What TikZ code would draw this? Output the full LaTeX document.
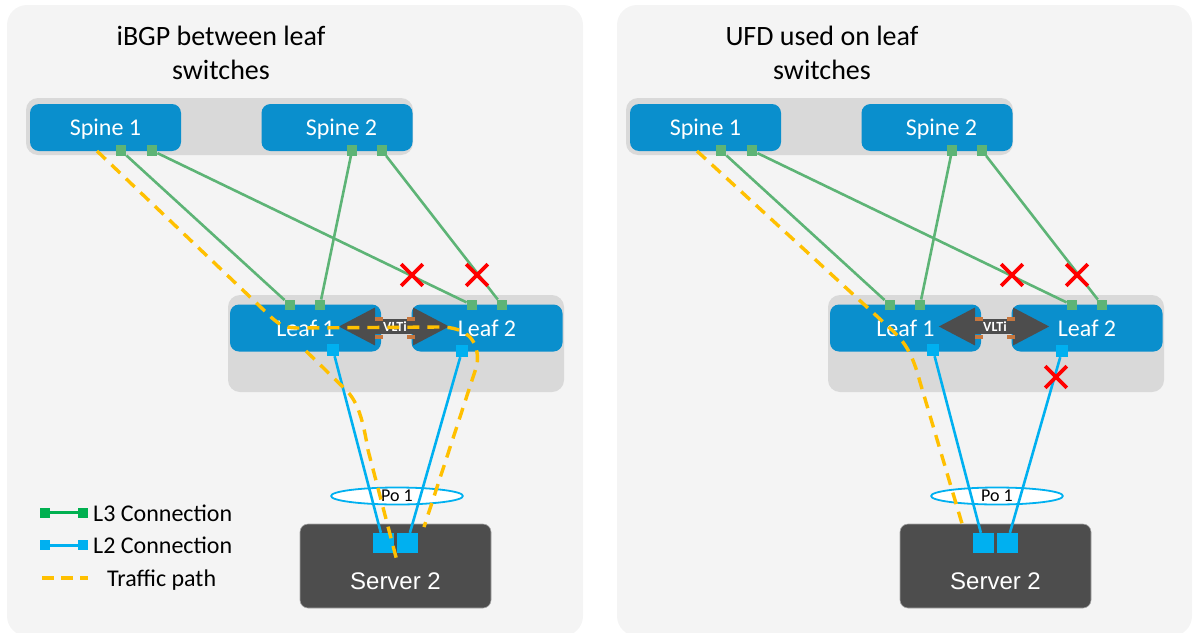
\documentclass[tikz,border=0pt]{standalone}
\usepackage{fontspec}
\setmainfont{Carlito}
\newfontfamily\arialfont{Liberation Sans}
\usetikzlibrary{shapes.geometric,shapes.misc,arrows.meta}
\definecolor{panelbg}{HTML}{F4F4F4}
\definecolor{groupbg}{HTML}{D9D9D9}
\definecolor{swblue}{HTML}{0A8FCD}
\definecolor{lthree}{HTML}{5DB476}
\definecolor{lthreelg}{HTML}{00B050}
\definecolor{ltwo}{HTML}{00B0F0}
\definecolor{traffic}{HTML}{FFC000}
\definecolor{srvgray}{HTML}{4D4D4D}
\definecolor{vltiorange}{HTML}{C5773F}
\begin{document}
\begin{tikzpicture}[x=1pt,y=-1pt,line join=round,
	ttl/.style={align=center,inner sep=0pt,font=\fontsize{28}{34}\selectfont},
	grp/.style={fill=groupbg,rounded corners=12pt},
	sw/.style={fill=swblue,rounded corners=9pt,text=white,inner sep=0pt,minimum width=151pt,minimum height=47pt,text height=16pt,text depth=0pt,font=\fontsize{24}{24}\selectfont},
	pthree/.style={fill=lthree,minimum size=10.5pt,inner sep=0pt},
	ptwo/.style={fill=ltwo,minimum size=12pt,inner sep=0pt},
	srvport/.style={fill=ltwo,minimum width=21pt,minimum height=20pt,inner sep=0pt},
	lthreeline/.style={draw=lthree,line width=2.6pt},
	ltwoline/.style={draw=ltwo,line width=2.6pt},
	trafficpath/.style={draw=traffic,line width=3.4pt,dash pattern=on 12pt off 8pt},
	xmark/.style={cross out,draw=red,line width=3.6pt,minimum size=18pt,inner sep=0pt},
	vlti/.style={draw=srvgray,line width=15pt,{Triangle[length=37pt,width=35pt]}-{Triangle[length=37pt,width=35pt]}},
	srv/.style={fill=srvgray,draw=gray!70,line width=.6pt,rounded corners=8pt,inner sep=0pt,minimum width=191pt,minimum height=84pt,text height=65pt,text depth=19pt,text=white,font=\arialfont\fontsize{24}{24}\selectfont},
	po/.style={ellipse,draw=ltwo,fill=white,line width=1.8pt,inner sep=0pt,minimum width=132pt,minimum height=17pt,font=\fontsize{18}{18}\selectfont},
	lgtxt/.style={anchor=base west,inner sep=0pt,font=\fontsize{24}{24}\selectfont}]
	\useasboundingbox (0,0) rectangle (1193,632);
	% panels
	\fill[panelbg,rounded corners=20pt] (7,5) rectangle (583,636);
	\fill[panelbg,rounded corners=20pt] (617,5) rectangle (1192,636);
	\node[ttl] (L-ttl) at (221,53) {iBGP between leaf\\switches};
	\node[ttl] (R-ttl) at (822,53) {UFD used on leaf\\switches};
	% same fabric in both panels
	\foreach \p/\dx in {L/0,R/600}{
	\begin{scope}[xshift=\dx]
		\fill[grp] (26,98) rectangle (413,155);
		\fill[grp] (228,295) rectangle (564,392);
		\node[sw] (\p-s1) at (105.5,127.5) {Spine 1\hspace{12pt}};
		\node[sw] (\p-s2) at (337,127.5) {\hspace{9pt}Spine 2};
		\node[sw] (\p-l1) at (305.5,328) {Leaf 1};
		\node[sw] (\p-l2) at (487,328) {Leaf 2};
		%VLTi
		\coordinate (\p-va) at (338,326.5);
		\coordinate (\p-vb) at (450,326.5);
		\draw[vlti] (\p-va)--(\p-vb);
		\foreach \xa in {375,407} {
			\fill[vltiorange] (\xa,316.5) rectangle +(8,4);
			\fill[vltiorange] (\xa,335) rectangle +(8,4);
		}
		\node[text=white,font=\bfseries\fontsize{14}{14}\selectfont,inner sep=0pt] (\p-vt) at (395,327) {VLTi};
		\node[po] (\p-po) at (397,496) {Po 1};
		\node[srv] (\p-srv) at (395.5,566) {Server 2};
		%ports
		\node[pthree] (\p-s1a) at (121,150.5) {};
		\node[pthree] (\p-s1b) at (152,150.5) {};
		\node[pthree] (\p-s2a) at (352,150.5) {};
		\node[pthree] (\p-s2b) at (382,150.5) {};
		\node[pthree] (\p-l1a) at (290,305) {};
		\node[pthree] (\p-l1b) at (320,305) {};
		\node[pthree] (\p-l2a) at (472,305) {};
		\node[pthree] (\p-l2b) at (502,305) {};
		\node[ptwo] (\p-l1c) at (333,350) {};
		\node[ptwo] (\p-l2c) at (462,351) {};
		\node[srvport] (\p-sv1) at (383.5,543) {};
		\node[srvport] (\p-sv2) at (407,543) {};
		%links
		\draw[lthreeline] (\p-s1a)--(\p-l1a);
		\draw[lthreeline] (\p-s1b)--(\p-l2a);
		\draw[lthreeline] (\p-s2a)--(\p-l1b);
		\draw[lthreeline] (\p-s2b)--(\p-l2b);
		\draw[ltwoline] (\p-l1c)--(\p-sv1);
		\draw[ltwoline] (\p-l2c)--(\p-sv2);
		\node[xmark] (\p-x1) at (412,275) {};
		\node[xmark] (\p-x2) at (477,275) {};
	\end{scope}
	}
	\node[xmark] (R-x3) at (1056,377) {};
	%traffic paths
	\coordinate (L-t0) at (97,151);
	\coordinate (L-t1) at (424,527);
	\coordinate (L-t2) at (306,351);
	\coordinate (L-t3) at (397,561);
	\draw[trafficpath] (L-t0)--(270,316) .. controls (281,327) and (288,328) .. (300,328)--(440,327)
		.. controls (468,327) and (480,342) .. (477,365)--(L-t1);
	\draw[trafficpath] (L-t2)--(346,390) .. controls (358,402) and (363,420) .. (368,450)--(L-t3);
	\coordinate (R-t0) at (697,151);
	\coordinate (R-t1) at (963,527);
	\draw[trafficpath] (R-t0)--(893,331) .. controls (908,345) and (914,360) .. (920,382)--(R-t1);
	%legend
	\node[fill=lthreelg,minimum size=10pt,inner sep=0pt] (g3a) at (45,512.5) {};
	\node[fill=lthreelg,minimum size=10pt,inner sep=0pt] (g3b) at (83,512.5) {};
	\draw[lthreelg,line width=3pt] (g3a)--(g3b);
	\node[lgtxt] (g3t) at (93,521) {L3 Connection};
	\node[fill=ltwo,minimum size=10pt,inner sep=0pt] (g2a) at (45,545) {};
	\node[fill=ltwo,minimum size=10pt,inner sep=0pt] (g2b) at (83,545) {};
	\draw[ltwo,line width=3pt] (g2a)--(g2b);
	\node[lgtxt] (g2t) at (93,553) {L2 Connection};
	\coordinate (gta) at (42,578);
	\coordinate (gtb) at (88,578);
	\draw[trafficpath,dash pattern=on 12pt off 7pt] (gta)--(gtb);
	\node[lgtxt] (gtt) at (107,586) {Traffic path};
\end{tikzpicture}
\end{document}
